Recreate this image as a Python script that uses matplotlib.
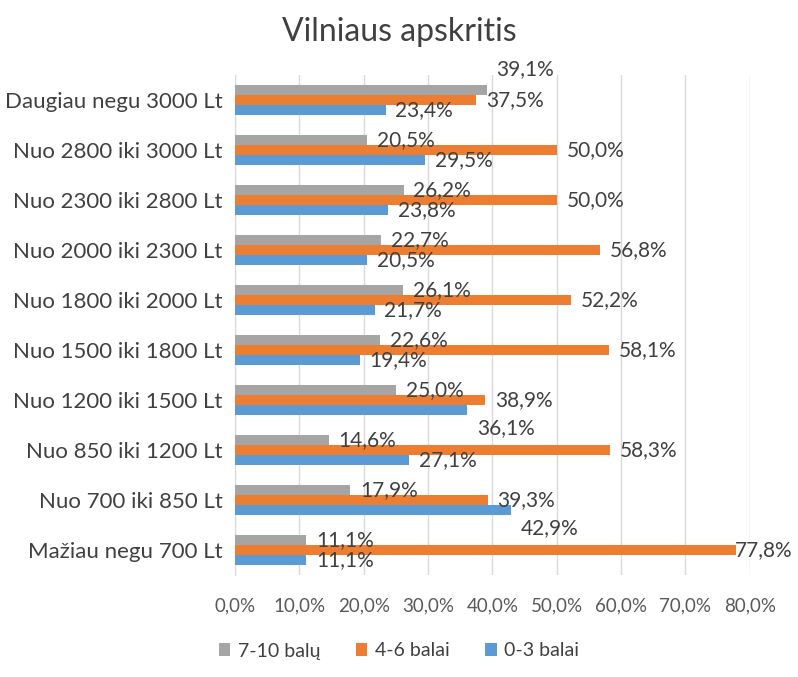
import numpy as np
import matplotlib.pyplot as plt
from matplotlib.ticker import FuncFormatter

categories = ['Mažiau negu 700 Lt', 'Nuo 700 iki 850 Lt', 'Nuo 850 iki 1200 Lt',
              'Nuo 1200 iki 1500 Lt', 'Nuo 1500 iki 1800 Lt', 'Nuo 1800 iki 2000 Lt',
              'Nuo 2000 iki 2300 Lt', 'Nuo 2300 iki 2800 Lt', 'Nuo 2800 iki 3000 Lt',
              'Daugiau negu 3000 Lt']
high = [11.1, 17.9, 14.6, 25.0, 22.6, 26.1, 22.7, 26.2, 20.5, 39.1]   # 7-10 balų
mid = [77.8, 39.3, 58.3, 38.9, 58.1, 52.2, 56.8, 50.0, 50.0, 37.5]    # 4-6 balai
low = [11.1, 42.9, 27.1, 36.1, 19.4, 21.7, 20.5, 23.8, 29.5, 23.4]    # 0-3 balai
series_names = ['7-10 balų', '4-6 balai', '0-3 balai']

colors = ['#A5A5A5', '#ED7D31', '#5B9BD5']
font = 'Lato'


def pct(v):
    return f'{v:.1f}%'.replace('.', ',')


fig = plt.figure(figsize=(7.98, 6.77), dpi=100)
ax = fig.add_axes([0.2945, 0.151, 0.645, 0.738])

y = np.arange(len(categories))
h = 0.2
offsets = [h, 0, -h]
labels = []
for k, (vals, off, c, name) in enumerate(zip([high, mid, low], offsets, colors, series_names)):
    ax.barh(y + off, vals, height=h, color=c, label=name, zorder=3)
    for i, v in enumerate(vals):
        # push labels apart like Excel does when neighbouring bars end close together
        dy = 0
        if k == 0 and abs(high[i] - mid[i]) < 5:
            dy = 15
        if k == 2 and abs(low[i] - mid[i]) < 5:
            dy = -13
        t = ax.annotate(pct(v), (v, y[i] + off), xytext=(7, dy), textcoords='offset points',
                        va='center', ha='left', fontsize=15, color='#404040',
                        family=font, zorder=4, annotation_clip=False)
        labels.append(t)

ax.set_xlim(0, 80)
ax.set_ylim(-0.5, len(categories) - 0.5)
ax.set_xticks(np.arange(0, 81, 10))
ax.xaxis.set_major_formatter(FuncFormatter(lambda v, p: pct(v)))
ax.set_yticks(y)
ax.set_yticklabels(categories)
ax.grid(axis='x', color='#D9D9D9', linewidth=1, zorder=0)
for s in ['top', 'right', 'bottom']:
    ax.spines[s].set_visible(False)
ax.spines['left'].set_color('#D9D9D9')
ax.tick_params(axis='both', length=0)
ax.tick_params(axis='x', pad=16)
ax.tick_params(axis='y', pad=9)
for lab in ax.get_xticklabels():
    lab.set_fontsize(13.5)
    lab.set_color('#595959')
    lab.set_family(font)
for lab in ax.get_yticklabels():
    lab.set_fontsize(16)
    lab.set_color('#404040')
    lab.set_family(font)

fig.suptitle('Vilniaus apskritis', y=0.975, fontsize=23, color='#404040', family=font)

fig.legend(loc='lower center', bbox_to_anchor=(0.5, 0.0), ncol=3, frameon=False,
           prop={'family': font, 'size': 14}, labelcolor='#404040',
           handlelength=0.6, handleheight=0.6, handletextpad=0.4, columnspacing=1.8)

# keep labels inside the figure
fig.canvas.draw()
r = fig.canvas.get_renderer()
for t in labels:
    bb = t.get_window_extent(r)
    over = bb.x1 - (fig.bbox.width - 6)
    if over > 0:
        dx, dy = t.xyann
        t.xyann = (dx - over * 72 / fig.dpi, dy)

fig.savefig('out.png', dpi=100)
